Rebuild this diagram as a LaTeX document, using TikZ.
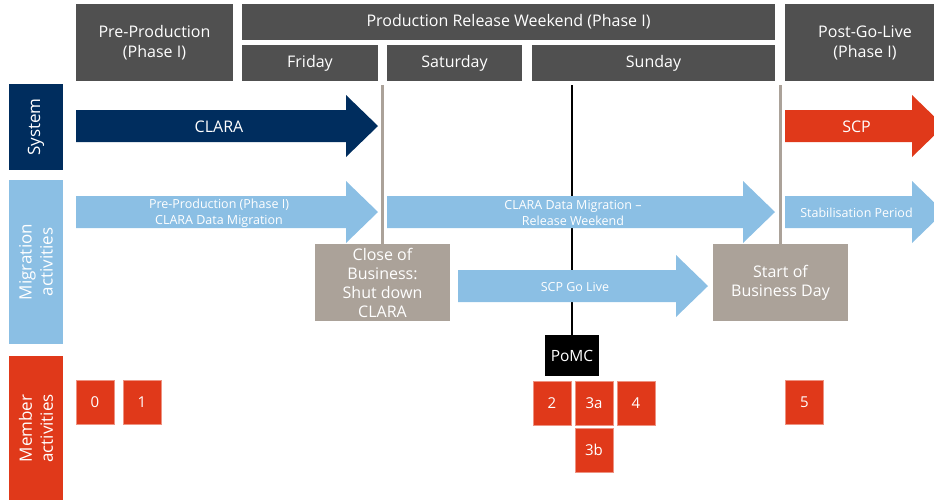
\documentclass[tikz,border=0pt]{standalone}
\usepackage{fontspec}
\setmainfont{Open Sans}
\definecolor{hdrgray}{HTML}{505050}
\definecolor{navy}{HTML}{002D5E}
\definecolor{skyblue}{HTML}{8BBFE4}
\definecolor{signalred}{HTML}{E0391A}
\definecolor{taupe}{HTML}{ABA299}

% block arrow: name, x start, x tip, y centre, colour, text style, text
\newcommand{\phasearrow}[7]{%
  \fill[#5] ({#2},{#4-16}) -- ({#3-32},{#4-16}) -- ({#3-32},{#4-31}) -- ({#3},{#4})
    -- ({#3-32},{#4+31}) -- ({#3-32},{#4+16}) -- ({#2},{#4+16}) -- cycle;
  \node[#6] (#1) at ({(#2+#3-16)/2},{#4+1}) {#7};}

\begin{document}
\begin{tikzpicture}[x=1pt, y=-1pt,
    hdr/.style={fill=hdrgray, text=white, inner sep=0pt, align=center,
      font=\fontsize{16}{20}\selectfont},
    sidelbl/.style={text=white, inner sep=0pt, align=center, rotate=90,
      minimum width=#1, minimum height=54pt, font=\fontsize{17}{21}\selectfont},
    bigtext/.style={text=white, font=\fontsize{16}{18}\selectfont},
    smalltext/.style={text=white, align=center, font=\fontsize{12.5}{16}\selectfont},
    milestone/.style={fill=taupe, text=white, inner sep=0pt, align=center,
      minimum width=135pt, minimum height=77pt, font=\fontsize{16}{19}\selectfont},
    member/.style={fill=signalred, draw=signalred!55!white, line width=0.6pt, text=white,
      inner sep=0pt, minimum width=38pt, minimum height=44pt, font=\fontsize{15}{16}\selectfont},
    divider/.style={line width=2.6pt, taupe}]
    \clip (0,0) rectangle (934,499);
    % header row
    \node[hdr, minimum width=157pt, minimum height=77pt] (pre) at (154.5,42.5) {Pre-Production\\(Phase I)};
    \node[hdr, minimum width=533pt, minimum height=36pt] (weekend) at (508.5,22) {Production Release Weekend (Phase I)};
    \node[hdr, minimum width=136pt, minimum height=36pt] (fri) at (310,63) {Friday};
    \node[hdr, minimum width=135pt, minimum height=36pt] (sat) at (454.5,63) {Saturday};
    \node[hdr, minimum width=243pt, minimum height=36pt] (sun) at (653.5,63) {Sunday};
    \node[hdr, minimum width=160pt, minimum height=77pt] (post) at (865,42.5) {Post-Go-Live\\(Phase I)};
    % row labels
    \node[sidelbl=86pt, fill=navy] (sys) at (36,127) {System};
    \node[sidelbl=164pt, fill=skyblue] (mig) at (36,262) {Migration\\activities};
    \node[sidelbl=145pt, fill=signalred] (mem) at (36,428.5) {Member\\activities};
    % milestones
    \node[milestone] (cob) at (382.5,282.5) {Close of\\Business:\\Shut down\\CLARA};
    \node[milestone] (sob) at (780.5,282.5) {Start of\\Business Day};
    \node[fill=black, text=white, inner sep=0pt, minimum width=54pt, minimum height=41pt,
      font=\fontsize{15.5}{16}\selectfont] (pomc) at (572,355.5) {PoMC};
    \coordinate (cobtop) at (382.5,85);
    \coordinate (pomctop) at (572,85);
    \coordinate (sobtop) at (780.5,85);
    \draw[divider] (cobtop) -- (cob.north);
    \draw[divider] (sobtop) -- (sob.north);
    \draw[line width=2.6pt, black] (pomctop) -- (pomc.north);
    % arrows
    \phasearrow{clara}{76}{378}{126}{navy}{bigtext}{CLARA}
    \phasearrow{scp}{785}{944}{126}{signalred}{bigtext}{SCP}
    \phasearrow{premig}{76}{378}{212}{skyblue}{smalltext}{Pre-Production (Phase I)\\CLARA Data Migration}
    \phasearrow{relmig}{387}{775}{212}{skyblue}{smalltext}{CLARA Data Migration --\\Release Weekend}
    \phasearrow{stab}{785}{944}{212}{skyblue}{smalltext}{Stabilisation Period}
    \phasearrow{golive}{458}{708}{286}{skyblue}{smalltext}{SCP Go Live}
    % member activities
    \node[member] (m0) at (95,402.5) {0};
    \node[member] (m1) at (142,402.5) {1};
    \node[member] (m2) at (552,403) {2};
    \node[member] (m3a) at (594,403) {3a};
    \node[member] (m4) at (636,403) {4};
    \node[member] (m3b) at (594,450) {3b};
    \node[member] (m5) at (804.5,402.5) {5};
\end{tikzpicture}
\end{document}
